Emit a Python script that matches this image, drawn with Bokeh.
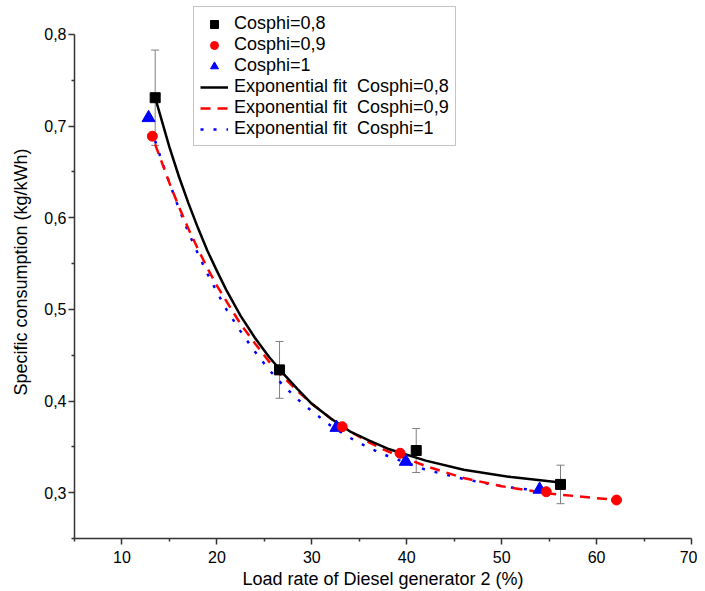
from bokeh.plotting import figure
from bokeh.models import (FixedTicker, CustomJSTickFormatter, Legend, LegendItem,
                          Whisker, ColumnDataSource, TeeHead, Range1d)
from bokeh.embed import file_html
from bokeh.resources import INLINE

# ---- data ----
x08 = [13.5, 26.6, 41.0, 56.2]
y08 = [0.731, 0.434, 0.346, 0.309]
err08 = [0.052, 0.031, 0.024, 0.021]

x09 = [13.2, 33.2, 39.3, 54.7, 62.1]
y09 = [0.689, 0.372, 0.343, 0.301, 0.292]

x10 = [12.8, 32.6, 39.9, 54.0]
y10 = [0.709, 0.371, 0.334, 0.3035]

fit_x08 = [13.5, 14, 15, 16, 17, 18, 19, 20, 21, 22.5, 24, 25.5, 27, 28.5, 30, 32, 34, 36, 38, 42, 46, 51, 56.2]
fit_y08 = [0.731, 0.713, 0.677, 0.645, 0.616, 0.589, 0.564, 0.542, 0.521, 0.493, 0.469, 0.448, 0.430,
           0.413, 0.397, 0.381, 0.367, 0.357, 0.348, 0.335, 0.325, 0.317, 0.311]

fit_x09 = [13.5, 14, 15, 16, 17, 18, 19, 20, 21, 22.5, 24, 25.5, 27, 28.5, 30, 32, 34, 36, 38, 42, 46, 50, 55, 62.1]
fit_y09 = [0.680, 0.666, 0.638, 0.612, 0.588, 0.566, 0.545, 0.526, 0.509, 0.484, 0.463, 0.443, 0.426,
           0.411, 0.397, 0.381, 0.367, 0.355, 0.345, 0.329, 0.316, 0.307, 0.299, 0.292]

fit_x10 = [13.5, 14, 15, 16, 17, 18, 19, 20, 21, 22.5, 24, 25.5, 27, 28.5, 30, 32, 34, 36, 38, 42, 46, 50, 54]
fit_y10 = [0.684, 0.668, 0.638, 0.610, 0.584, 0.561, 0.539, 0.519, 0.500, 0.476, 0.454, 0.434, 0.417,
           0.402, 0.389, 0.373, 0.360, 0.349, 0.340, 0.325, 0.315, 0.307, 0.302]

x_ticks = [10, 20, 30, 40, 50, 60, 70]
x_minor = [5, 15, 25, 35, 45, 55, 65]
y_ticks = [0.3, 0.4, 0.5, 0.6, 0.7, 0.8]
y_minor = [0.25, 0.35, 0.45, 0.55, 0.65, 0.75]

labels = ["Cosphi=0,8", "Cosphi=0,9", "Cosphi=1",
          "Exponential fit\u00a0 Cosphi=0,8", "Exponential fit\u00a0 Cosphi=0,9",
          "Exponential fit\u00a0 Cosphi=1"]

FONT = "Liberation Sans"

p = figure(width=697, height=591, output_backend="svg", toolbar_location=None,
           x_range=Range1d(5, 70), y_range=Range1d(0.25, 0.8316),
           min_border_left=74, min_border_right=6, min_border_top=5, min_border_bottom=52,
           x_axis_label="Load rate of Diesel generator 2 (%)",
           y_axis_label="Specific consumption (kg/kWh)")
p.outline_line_color = None
p.grid.visible = False
p.background_fill_color = "white"
p.border_fill_color = "white"

p.xaxis.ticker = FixedTicker(ticks=x_ticks, minor_ticks=x_minor)
p.yaxis.ticker = FixedTicker(ticks=y_ticks, minor_ticks=y_minor)
p.yaxis.bounds = (0.25, 0.8)
p.yaxis.formatter = CustomJSTickFormatter(code="return tick.toFixed(1).replace('.', ',');")
for ax in (p.xaxis, p.yaxis):
    ax.axis_line_color = "#333333"
    ax.axis_line_width = 1.5
    ax.major_tick_line_color = "#333333"
    ax.minor_tick_line_color = "#333333"
    ax.major_tick_line_width = 1.5
    ax.minor_tick_line_width = 1.5
    ax.major_tick_out = 6
    ax.major_tick_in = 0
    ax.minor_tick_out = 3
    ax.minor_tick_in = 0
    ax.major_label_text_font = FONT
    ax.major_label_text_font_size = "16px"
    ax.major_label_text_color = "black"
    ax.axis_label_text_font = FONT
    ax.axis_label_text_font_size = "18px"
    ax.axis_label_text_font_style = "normal"
    ax.axis_label_text_color = "black"
p.xaxis.major_label_standoff = 6
p.xaxis.axis_label_standoff = 3
p.yaxis.major_label_standoff = 2
p.yaxis.axis_label_standoff = 10

# error bars
src = ColumnDataSource(dict(x=x08, upper=[a + b for a, b in zip(y08, err08)],
                            lower=[a - b for a, b in zip(y08, err08)]))
wh = Whisker(base="x", upper="upper", lower="lower", source=src,
             line_color="#808080", line_width=1, level="underlay",
             upper_head=TeeHead(size=8, line_color="#808080", line_width=1),
             lower_head=TeeHead(size=8, line_color="#808080", line_width=1))
p.add_layout(wh)

# fits
r_f10 = p.line(fit_x10, fit_y10, line_color="#0000ff", line_width=2.5, line_dash="3 10")
r_f09 = p.line(fit_x09, fit_y09, line_color="#ff0000", line_width=2.5, line_dash="10 7")
r_f08 = p.line(fit_x08, fit_y08, line_color="black", line_width=2.5)

# points
r_10 = p.scatter(x10, y10, marker="triangle", size=13, color="#0000ff")
r_09 = p.scatter(x09, y09, marker="circle", size=10, color="#ff0000")
r_08 = p.scatter(x08, y08, marker="square", size=10, color="black")

legend = Legend(items=[LegendItem(label=labels[0], renderers=[r_08]),
                       LegendItem(label=labels[1], renderers=[r_09]),
                       LegendItem(label=labels[2], renderers=[r_10]),
                       LegendItem(label=labels[3], renderers=[r_f08]),
                       LegendItem(label=labels[4], renderers=[r_f09]),
                       LegendItem(label=labels[5], renderers=[r_f10])],
                location=(119, 392))
legend.border_line_color = "#8c8c8c"
legend.border_line_width = 1
legend.background_fill_color = "white"
legend.background_fill_alpha = 1
legend.label_text_font = FONT
legend.label_text_font_size = "18px"
legend.label_text_color = "black"
legend.glyph_width = 28
legend.glyph_height = 20
legend.label_height = 20
legend.spacing = 0
legend.padding = 6
legend.label_standoff = 6
legend.margin = 0
p.add_layout(legend)

open("out.html", "w").write(file_html(p, INLINE))
